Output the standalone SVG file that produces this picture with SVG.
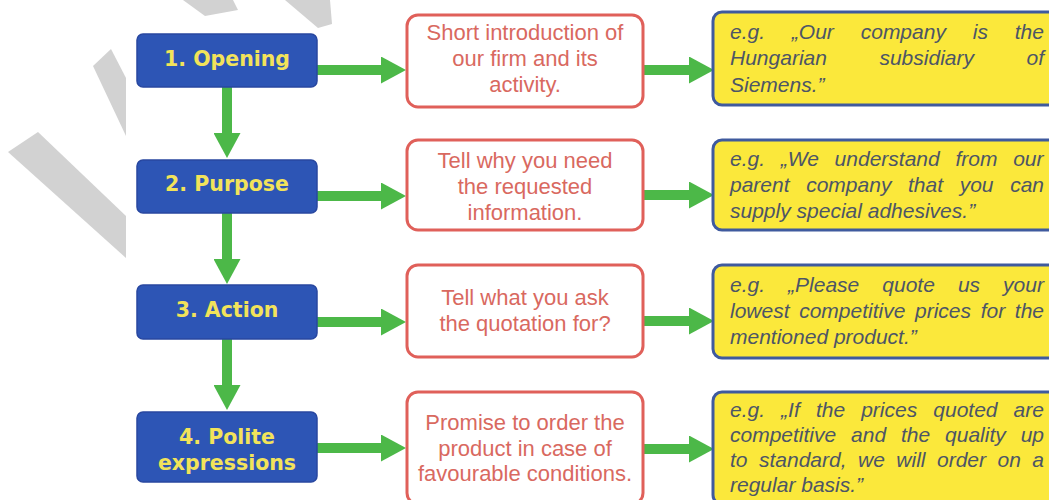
<svg xmlns="http://www.w3.org/2000/svg" width="1049" height="500" viewBox="0 0 1049 500">
<style>
.step{fill:#2d55b5;stroke:#2847a0;stroke-width:1.5}
.stept{font-family:"DejaVu Sans",Verdana,sans-serif;font-weight:bold;font-size:20.5px;fill:#f2e35a;text-anchor:middle}
.task{fill:#ffffff;stroke:#e0605a;stroke-width:3}
.taskt{font-family:"Liberation Sans",Arial,sans-serif;font-size:22px;fill:#d9695f;text-anchor:middle}
.ex{fill:#fbe83b;stroke:#3f5a9e;stroke-width:3}
.ext{font-family:"Liberation Sans",Arial,sans-serif;font-style:italic;font-size:21px;fill:#4d5566}
.conn{stroke:#4cb848;stroke-width:10;fill:none}
.wm{fill:#d2d2d2}
</style>
<defs>
<marker id="ah" markerUnits="userSpaceOnUse" markerWidth="25" markerHeight="27" refX="0" refY="13.5" orient="auto">
<path d="M0,0 L25,13.5 L0,27 Z" fill="#4cb848"/>
</marker>
</defs>
<rect width="1049" height="500" fill="#ffffff"/>
<g id="watermark">
<polygon class="wm" points="8,152 38,132 126,216 126,258"/>
<polygon class="wm" points="93,66 111,49 126,78 126,136"/>
<polygon class="wm" points="183,0 233,0 238,10 205,16"/>
<polygon class="wm" points="285,0 330,0 332,24 318,28"/>
</g>
<g id="connectors">
<line class="conn" x1="227" y1="87" x2="227" y2="133" marker-end="url(#ah)"/>
<line class="conn" x1="227" y1="213" x2="227" y2="259" marker-end="url(#ah)"/>
<line class="conn" x1="227" y1="339" x2="227" y2="385" marker-end="url(#ah)"/>
<line class="conn" x1="317" y1="70" x2="381" y2="70" marker-end="url(#ah)"/>
<line class="conn" x1="317" y1="196" x2="381" y2="196" marker-end="url(#ah)"/>
<line class="conn" x1="317" y1="322" x2="381" y2="322" marker-end="url(#ah)"/>
<line class="conn" x1="317" y1="448" x2="381" y2="448" marker-end="url(#ah)"/>
<line class="conn" x1="643" y1="70" x2="689" y2="70" marker-end="url(#ah)"/>
<line class="conn" x1="643" y1="195" x2="689" y2="195" marker-end="url(#ah)"/>
<line class="conn" x1="643" y1="321" x2="689" y2="321" marker-end="url(#ah)"/>
<line class="conn" x1="643" y1="449" x2="689" y2="449" marker-end="url(#ah)"/>
</g>
<g id="step1"><rect class="step" x="137" y="34" width="180" height="53" rx="6"/><text class="stept" x="227" y="66">1. Opening</text></g>
<g id="step2"><rect class="step" x="137" y="160" width="180" height="53" rx="6"/><text class="stept" x="227" y="191">2. Purpose</text></g>
<g id="step3"><rect class="step" x="137" y="285" width="180" height="54" rx="6"/><text class="stept" x="227" y="317">3. Action</text></g>
<g id="step4"><rect class="step" x="137" y="412" width="180" height="70" rx="6"/><text class="stept" x="227" y="444">4. Polite</text><text class="stept" x="227" y="470">expressions</text></g>
<g id="task1"><rect class="task" x="407" y="15" width="236" height="92" rx="11"/>
<text class="taskt" x="525" y="40">Short introduction of</text><text class="taskt" x="525" y="66">our firm and its</text><text class="taskt" x="525" y="92">activity.</text></g>
<g id="task2"><rect class="task" x="407" y="140" width="236" height="90" rx="11"/>
<text class="taskt" x="525" y="168">Tell why you need</text><text class="taskt" x="525" y="194">the requested</text><text class="taskt" x="525" y="220">information.</text></g>
<g id="task3"><rect class="task" x="407" y="265" width="236" height="92" rx="11"/>
<text class="taskt" x="525" y="305">Tell what you ask</text><text class="taskt" x="525" y="331">the quotation for?</text></g>
<g id="task4"><rect class="task" x="407" y="392" width="236" height="112" rx="11"/>
<text class="taskt" x="525" y="430">Promise to order the</text><text class="taskt" x="525" y="456">product in case of</text><text class="taskt" x="525" y="481">favourable conditions.</text></g>
<g id="example1"><rect class="ex" x="713" y="12" width="350" height="93" rx="9"/>
<text class="ext" x="730" y="39" word-spacing="21">e.g. „Our company is the</text>
<text class="ext" x="730" y="65" word-spacing="46.7">Hungarian subsidiary of</text>
<text class="ext" x="730" y="92">Siemens.”</text></g>
<g id="example2"><rect class="ex" x="713" y="140" width="350" height="90" rx="9"/>
<text class="ext" x="730" y="166" word-spacing="9.9">e.g. „We understand from our</text>
<text class="ext" x="730" y="192" word-spacing="10.8">parent company that you can</text>
<text class="ext" x="730" y="218">supply special adhesives.”</text></g>
<g id="example3"><rect class="ex" x="713" y="265" width="350" height="93" rx="9"/>
<text class="ext" x="730" y="292" word-spacing="17.2">e.g. „Please quote us your</text>
<text class="ext" x="730" y="318" word-spacing="3.8">lowest competitive prices for the</text>
<text class="ext" x="730" y="344">mentioned product.”</text></g>
<g id="example4"><rect class="ex" x="713" y="392" width="350" height="112" rx="9"/>
<text class="ext" x="730" y="417" word-spacing="10.26">e.g. „If the prices quoted are</text>
<text class="ext" x="730" y="442" word-spacing="9.04">competitive and the quality up</text>
<text class="ext" x="730" y="467" word-spacing="5.64">to standard, we will order on a</text>
<text class="ext" x="730" y="492">regular basis.”</text></g>
</svg>
